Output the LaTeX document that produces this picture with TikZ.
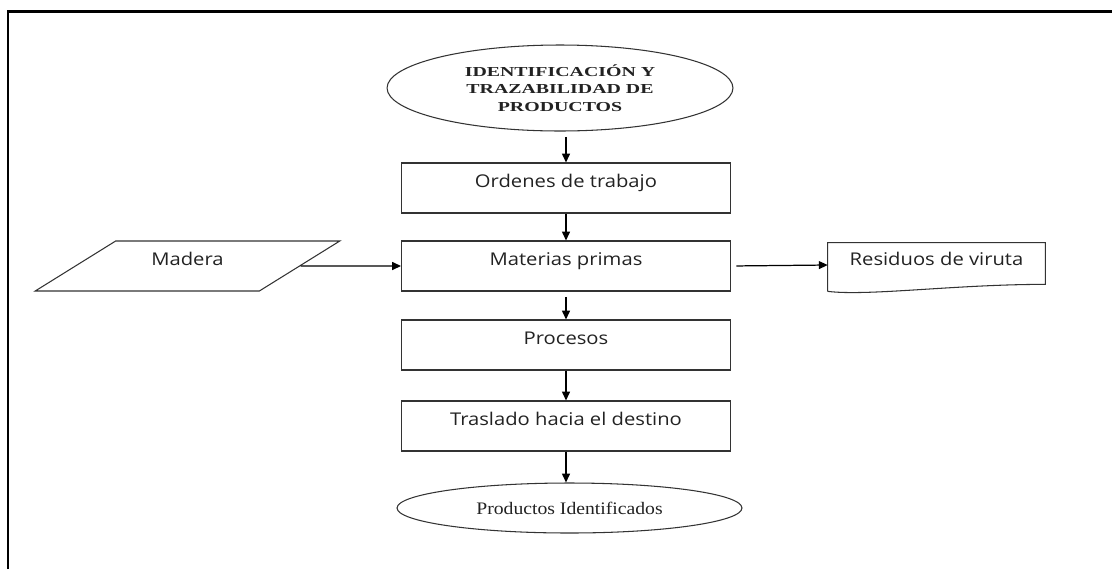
\documentclass[tikz,border=0pt]{standalone}
\usepackage{fontspec}
\setmainfont{Liberation Serif}
\newfontfamily\boxfont[FakeStretch=1.15]{Open Sans}
\newfontfamily\capsfont[FakeStretch=1.45]{Liberation Serif}
\newfontfamily\endfont[FakeStretch=1.12]{Liberation Serif}
\usepackage{tikz}
\usetikzlibrary{positioning,shapes.geometric,arrows.meta}
\usepackage{xcolor}
\definecolor{edgegray}{HTML}{333333}
\definecolor{inkgray}{HTML}{222222}

\begin{document}
\begin{tikzpicture}[x=0.02cm,y=-0.02cm,>={Triangle[length=5pt,width=4.5pt]}]
\tikzstyle{proc}=[draw=edgegray,line width=.6pt,minimum width=6.58cm,minimum height=1cm,text=inkgray,font=\boxfont\fontsize{10}{12}\selectfont,text height=7pt,text depth=7.5pt]
\tikzstyle{term}=[ellipse,draw=edgegray,line width=.6pt,inner sep=0pt,text=inkgray,align=center]
\tikzstyle{flow}=[->,line width=.7pt,draw=black]
\useasboundingbox (0,0) rectangle (1112,569);
\draw[line width=1.4pt] (8,569) -- (8,11.5) -- (1112,11.5);
\node[term,minimum width=6.92cm,minimum height=1.72cm,font=\capsfont\bfseries\fontsize{7.8}{10}\selectfont] (inicio) at (560,88) {IDENTIFICACIÓN Y\\TRAZABILIDAD DE\\PRODUCTOS};
\node[proc] (ordenes) at (566,188) {Ordenes de trabajo};
\node[proc] (materias) at (566,266) {Materias primas};
\node[proc] (procesos) at (566,345) {Procesos};
\node[proc] (traslado) at (566,426) {Traslado hacia el destino};
\node[term,minimum width=6.9cm,minimum height=1cm,font=\endfont\fontsize{10}{12}\selectfont] (fin) at (569.5,508) {Productos Identificados};
\node[trapezium,trapezium left angle=39,trapezium right angle=141,trapezium stretches=true,draw=edgegray,line width=.6pt,minimum width=6.1cm,minimum height=1cm,text=inkgray,font=\boxfont\fontsize{10}{12}\selectfont,text height=7pt,text depth=8pt] (madera) at (187.5,266) {Madera};
\node[minimum width=4.34cm,minimum height=.88cm,text=inkgray,font=\boxfont\fontsize{10}{12}\selectfont,text height=7pt,text depth=6.5pt] (residuos) at (936.5,265) {Residuos de viruta};
\draw[edgegray,line width=.6pt] ([yshift=-0.08cm]residuos.south west) -- (residuos.north west) -- (residuos.north east) -- ([yshift=0.06cm]residuos.south east) .. controls +(-90,0) and +(40,5) .. ([yshift=-0.08cm]residuos.south west);
\draw[flow,shorten <=3pt] (ordenes.north |- inicio.south) -- (ordenes.north);
\draw[flow] (ordenes) -- (materias);
\draw[flow,shorten <=3pt] (materias) -- (procesos);
\draw[flow] (procesos) -- (traslado);
\draw[flow] (traslado.south) -- (traslado.south |- fin.north);
\draw[flow] (madera.east) -- (materias.west);
\draw[flow,shorten <=3pt] (materias.east) -- (residuos.west);
\end{tikzpicture}
\end{document}
